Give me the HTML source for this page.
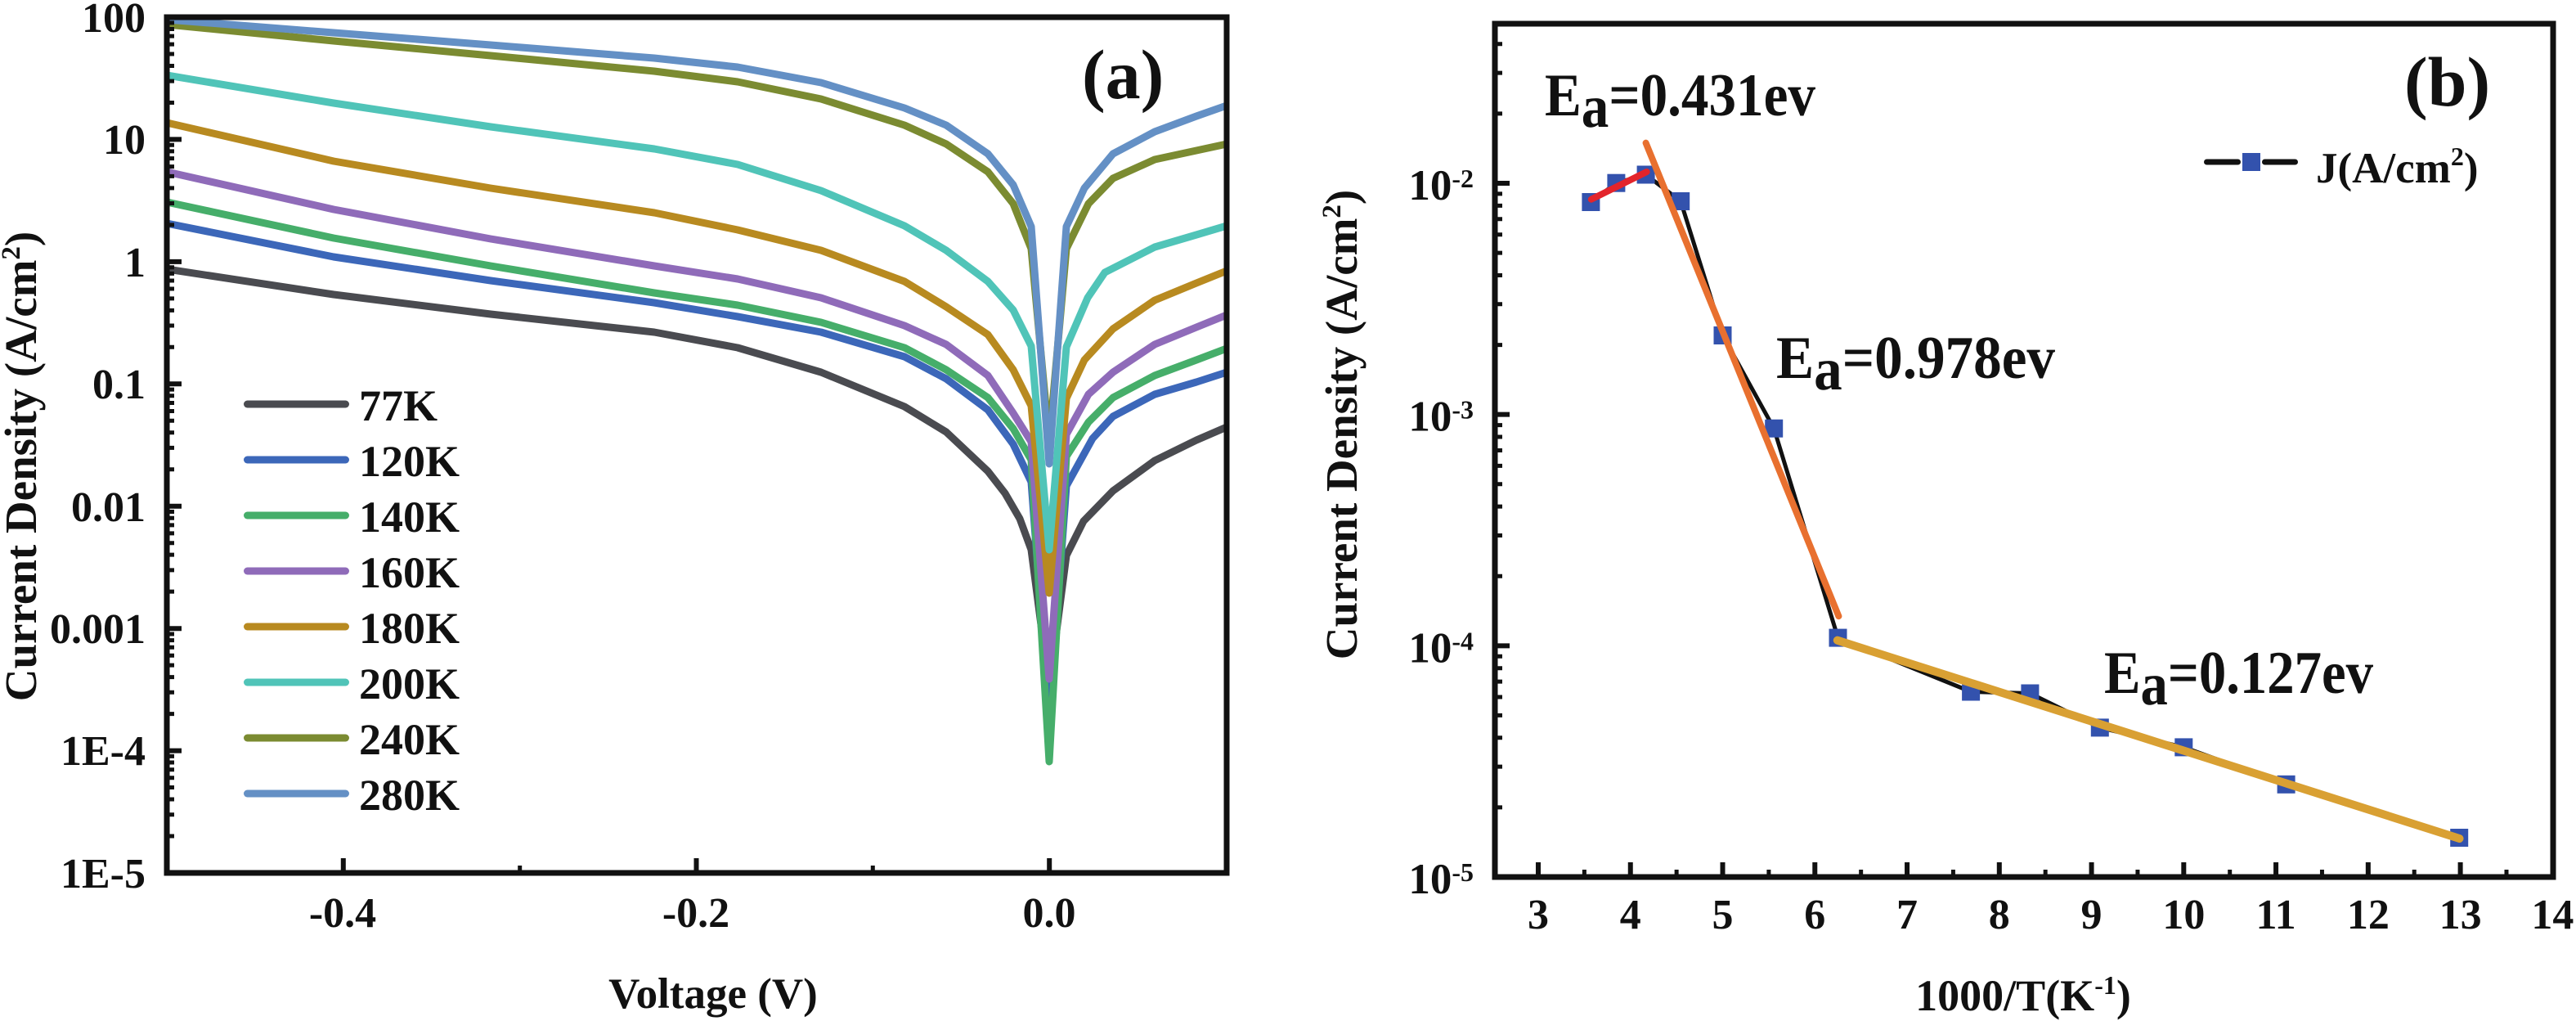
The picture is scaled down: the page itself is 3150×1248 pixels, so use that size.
<!DOCTYPE html>
<html>
<head>
<meta charset="utf-8">
<style>
html,body{margin:0;padding:0;background:#fff;}
svg{display:block;}
</style>
</head>
<body>
<svg xmlns="http://www.w3.org/2000/svg" width="3150" height="1248" viewBox="0 0 3150 1248" font-family="'Liberation Serif','Times New Roman',serif" font-weight="bold" fill="#111">
<rect x="0" y="0" width="3150" height="1248" fill="#fff"/>

<!-- ================= PANEL (a) ================= -->
<defs>
<clipPath id="clipa"><rect x="204" y="21" width="1296" height="1046"/></clipPath>
</defs>
<g clip-path="url(#clipa)" fill="none" stroke-width="9" stroke-linejoin="round" stroke-linecap="round">
<polyline stroke="#4a4b50" points="204,329 408,360 600,384 800,406 902,425 1004,455 1106,497 1157,528 1208,576 1229,603 1247,634 1261,672 1283,840 1304,679 1325,637 1361,600 1412,563 1463,538 1500,522"/>
<polyline stroke="#3c67b9" points="204,273 408,314 600,343 800,370 902,387 1004,406 1106,436 1157,463 1208,501 1239,543 1261,589 1283,880 1304,594 1336,536 1361,509 1412,482 1463,467 1500,455"/>
<polyline stroke="#46ae6a" points="204,247 408,291 600,325 800,358 902,373 1004,394 1106,425 1157,452 1208,486 1239,524 1261,562 1283,931 1304,558 1331,516 1361,486 1412,459 1463,440 1500,426"/>
<polyline stroke="#8f6bb9" points="204,210 408,256 600,292 800,325 902,341 1004,364 1106,398 1157,421 1208,459 1239,505 1261,540 1283,830 1304,531 1331,482 1361,455 1412,421 1463,400 1500,385"/>
<polyline stroke="#b88a20" points="204,150 408,197 600,230 800,260 902,281 1004,306 1106,344 1157,375 1208,409 1239,452 1261,496 1283,725 1304,487 1326,440 1361,402 1412,367 1463,346 1500,331"/>
<polyline stroke="#50c4b8" points="204,92 408,126 600,155 800,182 902,201 1004,233 1106,276 1157,306 1208,344 1239,379 1261,423 1283,672 1304,424 1330,364 1351,333 1412,302 1463,287 1500,276"/>
<polyline stroke="#7b8b31" points="204,30 408,50 600,68 800,87 902,100 1004,121 1106,153 1157,176 1208,210 1239,249 1261,304 1283,540 1304,304 1331,249 1361,218 1412,195 1463,184 1500,176"/>
<polyline stroke="#6490c5" points="204,24 408,40 600,55 800,71 902,82 1004,101 1106,132 1157,153 1208,188 1239,226 1261,277 1283,567 1304,277 1326,230 1361,188 1412,161 1463,142 1500,129"/>
</g>

<!-- axes box (a) -->
<rect x="204" y="21" width="1296" height="1046" fill="none" stroke="#111" stroke-width="7"/>
<!-- y major ticks (a) -->
<path stroke="#111" stroke-width="6" fill="none" d="M204 21h18M204 170.4h18M204 319.9h18M204 469.3h18M204 618.7h18M204 768.2h18M204 917.6h18M204 1067h18"/>
<!-- y minor ticks (a) -->
<path stroke="#111" stroke-width="5" fill="none" d="
M204 125.45h9M204 99.13h9M204 80.46h9M204 65.98h9M204 54.15h9M204 44.15h9M204 35.48h9M204 27.84h9
M204 274.88h9M204 248.56h9M204 229.89h9M204 215.41h9M204 203.58h9M204 193.58h9M204 184.91h9M204 177.27h9
M204 424.31h9M204 397.99h9M204 379.32h9M204 364.84h9M204 353.01h9M204 343.01h9M204 334.34h9M204 326.70h9
M204 573.74h9M204 547.42h9M204 528.75h9M204 514.27h9M204 502.44h9M204 492.44h9M204 483.77h9M204 476.13h9
M204 723.17h9M204 696.85h9M204 678.18h9M204 663.70h9M204 651.87h9M204 641.87h9M204 633.20h9M204 625.56h9
M204 872.60h9M204 846.28h9M204 827.61h9M204 813.13h9M204 801.30h9M204 791.30h9M204 782.63h9M204 774.99h9
M204 1022.02h9M204 995.70h9M204 977.03h9M204 962.55h9M204 950.72h9M204 940.72h9M204 932.05h9M204 924.41h9"/>
<!-- x ticks (a) -->
<path stroke="#111" stroke-width="6" fill="none" d="M419.8 1067v-18M851.5 1067v-18M1283.2 1067v-18"/>
<path stroke="#111" stroke-width="5" fill="none" d="M635.7 1067v-9M1067.3 1067v-9"/>

<!-- y tick labels (a) -->
<g font-size="52" text-anchor="end">
<text x="178" y="39">100</text>
<text x="178" y="188">10</text>
<text x="178" y="338">1</text>
<text x="178" y="487">0.1</text>
<text x="178" y="637">0.01</text>
<text x="178" y="786">0.001</text>
<text x="178" y="935">1E-4</text>
<text x="178" y="1085">1E-5</text>
</g>
<!-- x tick labels (a) -->
<g font-size="52" text-anchor="middle">
<text x="419" y="1133">-0.4</text>
<text x="851" y="1133">-0.2</text>
<text x="1283" y="1133">0.0</text>
</g>
<!-- axis titles (a) -->
<text x="872" y="1232" font-size="53" text-anchor="middle">Voltage (V)</text>
<text transform="translate(44,570) rotate(-90)" font-size="55" text-anchor="middle">Current Density (A/cm<tspan font-size="33" dy="-20">2</tspan><tspan dy="20">)</tspan></text>

<!-- panel label (a) -->
<text x="1323" y="120" font-size="86">(a)</text>

<!-- legend (a) -->
<g stroke-width="9" stroke-linecap="round" fill="none">
<path stroke="#4a4b50" d="M302.5 494H422.5"/>
<path stroke="#3c67b9" d="M302.5 562H422.5"/>
<path stroke="#46ae6a" d="M302.5 630H422.5"/>
<path stroke="#8f6bb9" d="M302.5 698H422.5"/>
<path stroke="#b88a20" d="M302.5 766H422.5"/>
<path stroke="#50c4b8" d="M302.5 834H422.5"/>
<path stroke="#7b8b31" d="M302.5 902H422.5"/>
<path stroke="#6490c5" d="M302.5 970H422.5"/>
</g>
<g font-size="54">
<text x="439" y="514">77K</text>
<text x="439" y="582">120K</text>
<text x="439" y="650">140K</text>
<text x="439" y="718">160K</text>
<text x="439" y="786">180K</text>
<text x="439" y="854">200K</text>
<text x="439" y="922">240K</text>
<text x="439" y="990">280K</text>
</g>

<!-- ================= PANEL (b) ================= -->
<rect x="1828" y="29" width="1294" height="1043" fill="none" stroke="#111" stroke-width="7"/>
<!-- y major ticks (b) -->
<path stroke="#111" stroke-width="6" fill="none" d="M1828 224h18M1828 506.67h18M1828 789.33h18M1828 1072h18"/>
<!-- y minor ticks (b) -->
<path stroke="#111" stroke-width="5" fill="none" d="
M1828 138.91h9M1828 89.13h9M1828 53.81h9
M1828 421.58h9M1828 371.80h9M1828 336.48h9M1828 309.09h9M1828 286.71h9M1828 267.78h9M1828 251.39h9M1828 236.93h9
M1828 704.24h9M1828 654.46h9M1828 619.14h9M1828 591.75h9M1828 569.37h9M1828 550.44h9M1828 534.05h9M1828 519.59h9
M1828 986.91h9M1828 937.13h9M1828 901.81h9M1828 874.42h9M1828 852.04h9M1828 833.11h9M1828 816.72h9M1828 802.26h9"/>
<!-- x major ticks (b) -->
<path stroke="#111" stroke-width="6" fill="none" d="M1881 1072v-18M1993.76 1072v-18M2106.52 1072v-18M2219.28 1072v-18M2332.04 1072v-18M2444.8 1072v-18M2557.56 1072v-18M2670.32 1072v-18M2783.08 1072v-18M2895.84 1072v-18M3008.6 1072v-18"/>
<path stroke="#111" stroke-width="5" fill="none" d="M1937.38 1072v-9M2050.14 1072v-9M2162.9 1072v-9M2275.66 1072v-9M2388.42 1072v-9M2501.18 1072v-9M2613.94 1072v-9M2726.7 1072v-9M2839.46 1072v-9M2952.22 1072v-9M3064.98 1072v-9"/>

<!-- y tick labels (b) -->
<g font-size="53" text-anchor="end">
<text x="1802" y="244">10<tspan font-size="32" dy="-15">-2</tspan></text>
<text x="1802" y="526.67">10<tspan font-size="32" dy="-15">-3</tspan></text>
<text x="1802" y="809.33">10<tspan font-size="32" dy="-15">-4</tspan></text>
<text x="1802" y="1092">10<tspan font-size="32" dy="-15">-5</tspan></text>
</g>
<!-- x tick labels (b) -->
<g font-size="52" text-anchor="middle">
<text x="1881" y="1135">3</text>
<text x="1993.76" y="1135">4</text>
<text x="2106.52" y="1135">5</text>
<text x="2219.28" y="1135">6</text>
<text x="2332.04" y="1135">7</text>
<text x="2444.8" y="1135">8</text>
<text x="2557.56" y="1135">9</text>
<text x="2670.32" y="1135">10</text>
<text x="2783.08" y="1135">11</text>
<text x="2895.84" y="1135">12</text>
<text x="3008.6" y="1135">13</text>
<text x="3121.36" y="1135">14</text>
</g>
<!-- axis titles (b) -->
<text x="2474" y="1235" font-size="54" text-anchor="middle">1000/T(K<tspan font-size="32" dy="-20">-1</tspan><tspan dy="20">)</tspan></text>
<text transform="translate(1659,519) rotate(-90)" font-size="55" text-anchor="middle">Current Density (A/cm<tspan font-size="33" dy="-20">2</tspan><tspan dy="20">)</tspan></text>

<!-- panel label (b) -->
<text x="2940" y="129" font-size="86">(b)</text>

<!-- data connecting line -->
<polyline fill="none" stroke="#111" stroke-width="5" stroke-linejoin="round" points="1945.4,247 1976.4,223.7 2012.6,213.5 2055.2,246 2106.5,410 2169.2,523.7 2247.5,779.6 2410.1,845.5 2482.4,847.5 2567.8,889.4 2670.3,913.4 2795.6,958.8 3007.2,1024"/>
<!-- squares -->
<g fill="#3352ad">
<rect x="1934.4" y="236" width="22" height="22"/>
<rect x="1965.4" y="212.7" width="22" height="22"/>
<rect x="2001.6" y="202.5" width="22" height="22"/>
<rect x="2044.2" y="235" width="22" height="22"/>
<rect x="2095.5" y="399" width="22" height="22"/>
<rect x="2158.2" y="512.7" width="22" height="22"/>
<rect x="2236.5" y="768.6" width="22" height="22"/>
<rect x="2399.1" y="834.5" width="22" height="22"/>
<rect x="2471.4" y="836.5" width="22" height="22"/>
<rect x="2556.8" y="878.4" width="22" height="22"/>
<rect x="2659.3" y="902.4" width="22" height="22"/>
<rect x="2784.6" y="947.8" width="22" height="22"/>
<rect x="2996.2" y="1013" width="22" height="22"/>
</g>
<!-- fit lines -->
<g stroke-linecap="round" fill="none">
<path stroke="#e3242b" stroke-width="8" d="M1945.8 243.7L2013.7 210"/>
<path stroke="#e8702f" stroke-width="8" d="M2012.6 174.7L2248.4 753.2"/>
<path stroke="#d9a033" stroke-width="10" d="M2246.8 782.7L3007.5 1025"/>
</g>

<!-- Ea labels -->
<text x="1889" y="141" font-size="74" textLength="331" lengthAdjust="spacingAndGlyphs">E<tspan dy="14">a</tspan><tspan dy="-14">=0.431ev</tspan></text>
<text x="2172" y="462" font-size="74" textLength="341" lengthAdjust="spacingAndGlyphs">E<tspan dy="14">a</tspan><tspan dy="-14">=0.978ev</tspan></text>
<text x="2573" y="847" font-size="74" textLength="329" lengthAdjust="spacingAndGlyphs">E<tspan dy="14">a</tspan><tspan dy="-14">=0.127ev</tspan></text>

<!-- legend (b) -->
<g stroke="#111" stroke-width="7" stroke-linecap="round">
<path d="M2698.5 198H2736.5"/>
<path d="M2769.5 198H2806.5"/>
</g>
<rect x="2742" y="187" width="22" height="22" fill="#3352ad"/>
<text x="2832" y="223" font-size="53">J(A/cm<tspan font-size="32" dy="-21">2</tspan><tspan dy="21">)</tspan></text>
</svg>
</body>
</html>
